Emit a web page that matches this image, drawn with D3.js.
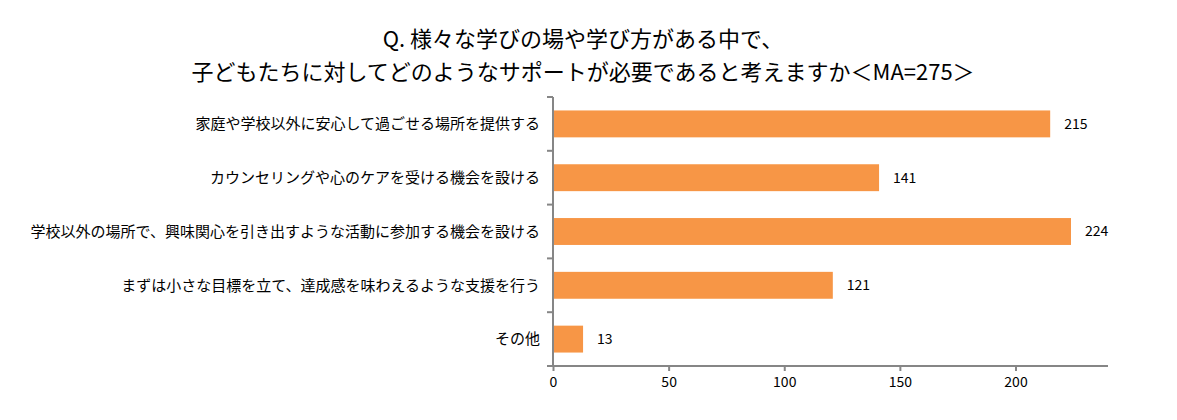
<!DOCTYPE html>
<html><head><meta charset="utf-8">
<script src="https://cdn.jsdelivr.net/npm/d3@7"></script>
<style>body{margin:0;background:#fff;}svg{display:block;}</style>
</head><body>
<script>
const titleLines = ["Q. 様々な学びの場や学び方がある中で、", "子どもたちに対してどのようなサポートが必要であると考えますか＜MA=275＞"];
const categories = [
  "家庭や学校以外に安心して過ごせる場所を提供する",
  "カウンセリングや心のケアを受ける機会を設ける",
  "学校以外の場所で、興味関心を引き出すような活動に参加する機会を設ける",
  "まずは小さな目標を立て、達成感を味わえるような支援を行う",
  "その他"
];
const values = [215, 141, 224, 121, 13];
const xTicks = [0, 50, 100, 150, 200];
const xMax = 240;

const W = 1177, H = 420;
const font = "'Noto Sans CJK JP', 'Noto Sans', sans-serif";
const svg = d3.select("body").append("svg").attr("width", W).attr("height", H);

const x = d3.scaleLinear().domain([0, xMax]).range([553, 1108]);
const y = d3.scaleBand().domain(categories).range([97, 366]).paddingInner(0.5).paddingOuter(0.25);

svg.selectAll("text.title").data(titleLines).enter().append("text")
  .attr("x", 583).attr("y", (d, i) => 47 + i * 33)
  .attr("text-anchor", "middle").attr("font-family", font).attr("font-size", 22)
  .attr("fill", "#000").text(d => d);

svg.selectAll("rect.bar").data(values).enter().append("rect")
  .attr("x", x(0)).attr("y", (d, i) => y(categories[i]))
  .attr("width", d => x(d) - x(0)).attr("height", y.bandwidth())
  .attr("fill", "#F79646");

svg.selectAll("text.val").data(values).enter().append("text")
  .attr("x", d => x(d) + 14).attr("y", (d, i) => y(categories[i]) + y.bandwidth() / 2)
  .attr("dy", "0.35em").attr("font-family", font).attr("font-size", 14)
  .attr("fill", "#000").text(d => d);

// y axis
const yAxisG = svg.append("g").attr("transform", `translate(${x(0)},0)`);
yAxisG.append("line").attr("x1", 0).attr("x2", 0).attr("y1", 97).attr("y2", 366)
  .attr("stroke", "#868686").attr("stroke-width", 2);
const bounds = d3.range(categories.length + 1).map(i => 97 + i * (269 / categories.length));
yAxisG.selectAll("line.tk").data(bounds).enter().append("line")
  .attr("x1", -6).attr("x2", 0).attr("y1", d => d).attr("y2", d => d)
  .attr("stroke", "#868686").attr("stroke-width", 2);
yAxisG.selectAll("text.cat").data(categories).enter().append("text")
  .attr("x", -13).attr("y", d => y(d) + y.bandwidth() / 2).attr("dy", "0.35em")
  .attr("text-anchor", "end").attr("font-family", font).attr("font-size", 15)
  .attr("fill", "#000").text(d => d);

// x axis
const xAxis = d3.axisBottom(x).tickValues(xTicks).tickSize(5).tickPadding(6);
const xg = svg.append("g").attr("transform", "translate(0,366)").call(xAxis);
xg.select(".domain").attr("stroke", "#868686").attr("stroke-width", 2)
  .attr("d", `M${x(0)},0H${x(xMax)}`);
xg.selectAll(".tick line").attr("stroke", "#868686").attr("stroke-width", 2);
xg.selectAll(".tick text").attr("font-family", font).attr("font-size", 14).attr("fill", "#000");
</script>
</body></html>
